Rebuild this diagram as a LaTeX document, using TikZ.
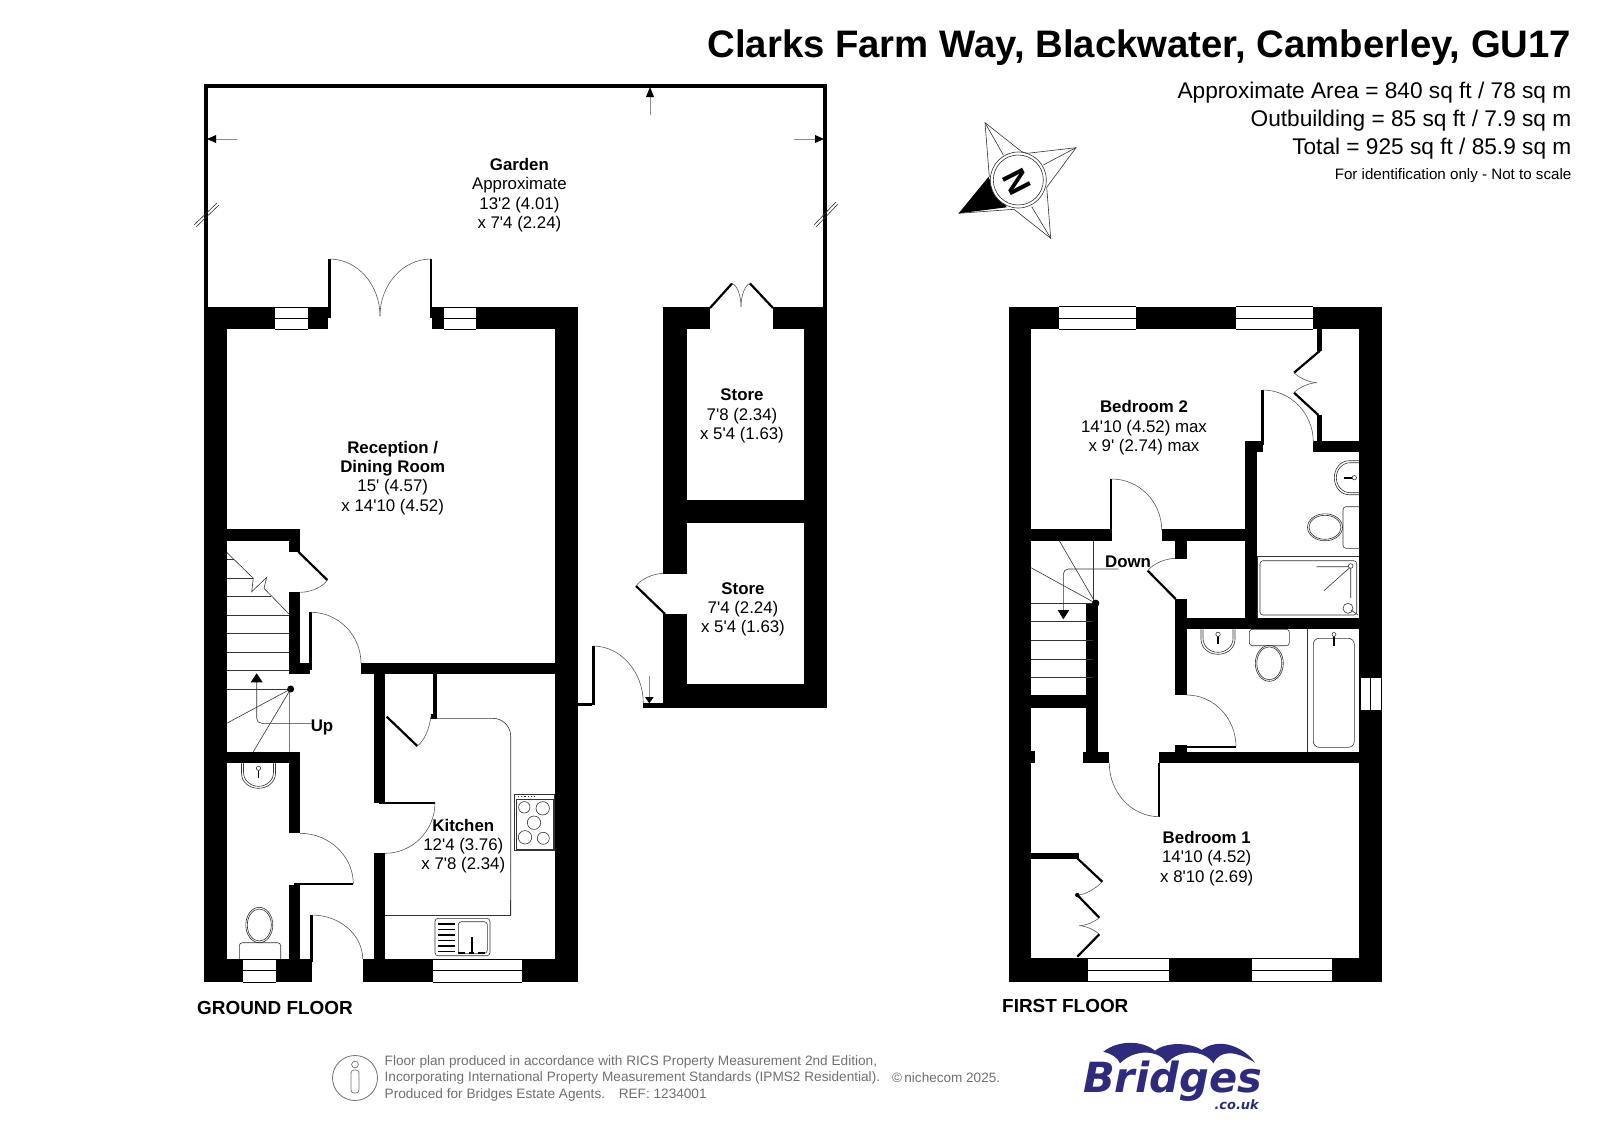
\documentclass[tikz,border=0pt]{standalone}
\usepackage{fontspec}
\setmainfont{Liberation Sans}[Ligatures=TeXOff]
\newfontfamily\logofont{DejaVu Sans}
\usetikzlibrary{calc}
\definecolor{logoblue}{HTML}{2E2A7E}
\definecolor{notegrey}{HTML}{707070}
\tikzset{
  wall/.style={fill=black},
  leaf/.style={draw=black, line width=2.2},
  swing/.style={draw=black!65, line width=0.6},
  fine/.style={draw=black!80, line width=0.6},
  pointer/.style={draw=black!45, line width=0.9},
  room/.style={align=center, inner sep=0pt, font=\fontsize{16.9}{19.4}\selectfont},
  sidetext/.style={anchor=base east, inner sep=0pt},
}
\newcommand{\swingarc}[3]{\draw[swing] (#1) .. controls ($(#1)!0.55!(#2)$) and ($(#3)!0.55!(#2)$) .. (#3);}
\newcommand{\winh}[4]{\fill[white] (#1,#2) rectangle (#3,#4);
  \draw[fine,draw=black] (#1,#2) -- (#3,#2) (#1,#4) -- (#3,#4) (#1,{(#2+#4)/2}) -- (#3,{(#2+#4)/2});}
\newcommand{\basin}[2]{\begin{scope}[shift={(#1)},rotate=#2]
  \draw[fine] (-17,0) -- (-17,10) .. controls (-17,19) and (-9,25) .. (0,25) .. controls (9,25) and (17,19) .. (17,10) -- (17,0);
  \draw[fine] (-15,0) -- (-15,9) .. controls (-15,17) and (-8,23) .. (0,23) .. controls (8,23) and (15,17) .. (15,9) -- (15,0);
  \draw[line width=1.6] (0,5) -- (0,15);
  \draw[fine,fill=white] (0,5) circle (2.2);
  \end{scope}}
\begin{document}
\begin{tikzpicture}[x=1bp,y=-1bp]
  \useasboundingbox (0,0) rectangle (1599,1131);

  % Garden
  \draw[line width=4,line join=miter] (206,307) -- (206,86) -- (825,86) -- (825,307);
  \draw[fine] (194,225) -- (217,203) (196,227) -- (219,205);
  \draw[fine] (814,225) -- (836,202) (816,227) -- (838,204);
  \draw[pointer] (650,115) -- (650,96);
  \draw[pointer] (237,139) -- (216,139);
  \draw[pointer] (794,139) -- (815,139);
  \fill (650,87) -- (646,97) -- (654,97) -- cycle;
  \fill (207,139) -- (216,135) -- (216,143) -- cycle;
  \fill (824,139) -- (815,135) -- (815,143) -- cycle;

  % Ground floor walls
  \fill[wall] (204,307) rectangle (226.7,982.3);
  \fill[wall] (204,959) rectangle (311.7,982.3);
  \fill[wall] (362.7,959) rectangle (577.7,982.3);
  \fill[wall] (554.7,307) rectangle (577.7,982.3);
  \fill[wall] (204,307) rectangle (328,329.3);
  \fill[wall] (432,307) rectangle (577.7,329.3);
  \fill[wall] (226.7,529.3) rectangle (300,541);
  \fill[wall] (289,529.3) rectangle (300,552.3);
  \fill[wall] (289,592) rectangle (300,674);
  \fill[wall] (289,663.3) rectangle (310,674);
  \fill[wall] (361,663.3) rectangle (554.7,674);
  \fill[wall] (374,674) rectangle (385,802.7);
  \fill[wall] (374,853.3) rectangle (385,982);
  \fill[wall] (433.3,674) rectangle (437.3,718.3);
  \fill[wall] (430.7,714.3) rectangle (437.3,719);
  \fill[wall] (226.7,751.7) rectangle (300,763.3);
  \fill[wall] (289,751.7) rectangle (300,833.3);
  \fill[wall] (289,885) rectangle (300,982);
  \winh{275.4}{307}{307.5}{329.3}
  \winh{443.6}{307}{476}{329.3}
  \winh{243.3}{959}{276}{982.3}
  \winh{433.3}{959}{521.7}{982.3}

  % Ground floor doors
  \draw[leaf] (329.5,259) -- (329.5,318);
  \draw[leaf] (431,259) -- (431,318);
  \swingarc{329.5,259}{380,259}{380,316}
  \swingarc{431,259}{380,259}{380,316}
  \draw[leaf] (298.3,551.7) -- (327.3,580);
  \swingarc{327.3,580}{320,592}{300.7,592.3}
  \draw[leaf] (310.5,612.3) -- (310.5,670);
  \swingarc{311,612.3}{361,612.3}{361,663.3}
  \draw[leaf] (386.7,716.7) -- (417.3,746);
  \swingarc{417.3,746}{429,738}{430.7,716.7}
  \draw[leaf] (379,802.7) -- (435,802.7);
  \swingarc{435,802.7}{435,853.3}{385,853.3}
  \draw[leaf] (294.3,884) -- (353.3,884);
  \swingarc{300,833.3}{353.3,833.3}{353.3,884}
  \draw[leaf] (311.5,915) -- (311.5,962);
  \swingarc{311.7,915}{362.7,915}{362.7,959}

  % Ground floor stairs
  \draw[fine] (226.7,689.3) -- (289,689.3) (226.7,670.7) -- (289,670.7) (226.7,652) -- (289,652)
    (226.7,633.7) -- (289,633.7) (226.7,615) -- (289,615) (226.7,596.3) -- (271,596.3)
    (226.7,578) -- (253,578) (226.7,559.3) -- (234,559.3);
  \draw[fine] (226.7,552.3) -- (253.3,578.3) -- (251.7,591.7) -- (266.7,577.3) -- (264,588.3) -- (289,614);
  \draw[fine] (290.7,689) -- (226.7,723.3) (290.7,689) -- (253.3,751.7) (289.3,689) -- (289.3,751.7);
  \fill (290.7,689) circle (3.5);
  \draw[fine,rounded corners=5] (311.7,723.3) -- (256.7,723.3) -- (256.7,682);
  \fill (256.7,673.3) -- (250.7,682.3) -- (262.7,682.3) -- cycle;

  % Kitchen fittings
  \draw[fine,rounded corners=18] (437,718.3) -- (510.7,718.3) -- (510.7,915.3);
  \draw[fine] (510.7,900) -- (510.7,915.3) -- (385,915.3);
  \draw[fine] (514.3,794) rectangle (554.7,850);
  \draw[fine] (516.5,799) rectangle (553,849);
  \draw[fine] (524.3,807.3) circle (5.7) (542.7,808.3) circle (6.7) (534,822.7) circle (6.7)
    (525,837.3) circle (6.7) (543.3,838.3) circle (6);
  \draw[fine,line width=1.2,dotted] (518,796.6) -- (535,796.6);
  \draw[fine,rounded corners=3] (435,918.3) rectangle (490,955.7);
  \draw[fine,rounded corners=3] (458.3,921.7) rectangle (487.3,953.3);
  \draw[line width=1.3] (438,924) -- (455,924) (438,929.3) -- (455,929.3) (438,935) -- (455,935)
    (438,940.7) -- (455,940.7) (438,946) -- (455,946) (438,951.7) -- (455,951.7);
  \draw[line width=1.6] (471.7,937) -- (471.7,952);
  \draw[line width=1.4] (458,953) -- (465,953) (469,953) -- (474,953) (478,953) -- (485,953);

  % Cloakroom fittings
  \basin{258.5,763.3}{0}
  \draw[fine,rounded corners=3] (239.3,959) -- (239.3,942.7) -- (280.7,942.7) -- (280.7,959);
  \draw[fine] (259.3,925) ellipse (13.5 and 17.7) (259.3,925) ellipse (12 and 16);

  % Stores
  \fill[wall] (663.3,307) rectangle (710,329.3);
  \fill[wall] (773,307) rectangle (827.3,329.3);
  \fill[wall] (663.3,307) rectangle (686.7,574.3);
  \fill[wall] (663.3,614) rectangle (686.7,707.7);
  \fill[wall] (804,307) rectangle (827.3,707.7);
  \fill[wall] (663.3,499.7) rectangle (827.3,523);
  \fill[wall] (663.3,684.3) rectangle (827.3,707.7);
  \fill[wall] (643.3,703.3) rectangle (663.3,707.7);
  \fill[wall] (577.3,703.3) rectangle (592,706);
  \draw[leaf] (710,308) -- (732,283.5);
  \draw[leaf] (773,308) -- (750,283.5);
  \swingarc{732,283.5}{741,286}{741,306.7}
  \swingarc{750,283.5}{741,286}{741,306.7}
  \draw[leaf] (665,614) -- (636,586);
  \swingarc{636,586}{644,574}{663.3,573.3}
  \draw[leaf] (593.5,646) -- (593.5,705);
  \swingarc{593,646}{643.3,646}{643.3,703.3}
  \draw[pointer] (649.3,676) -- (649.3,697);
  \fill (649.3,703.3) -- (645,697) -- (653.7,697) -- cycle;

  % First floor walls
  \fill[wall] (1009,306.7) rectangle (1031,981.7);
  \fill[wall] (1359.3,306.7) rectangle (1381.7,981.7);
  \fill[wall] (1009,306.7) rectangle (1381.7,329.3);
  \fill[wall] (1009,958.3) rectangle (1381.7,981.7);
  \fill[wall] (1316.7,329) rectangle (1321.7,350.7);
  \fill[wall] (1316.7,415) rectangle (1321.7,441);
  \fill[wall] (1313.3,440.7) rectangle (1359.3,451.7);
  \fill[wall] (1245,440.7) rectangle (1263.3,451.7);
  \fill[wall] (1245,440.7) rectangle (1256.7,629);
  \fill[wall] (1031,529.3) rectangle (1111.7,540.7);
  \fill[wall] (1161.7,529.3) rectangle (1245,540.7);
  \fill[wall] (1175,540.7) rectangle (1186.7,559.3);
  \fill[wall] (1175,599) rectangle (1186.7,695);
  \fill[wall] (1175,618.3) rectangle (1360,629.3);
  \fill[wall] (1175,745) rectangle (1186.7,755);
  \fill[wall] (1159.3,751.7) rectangle (1359.3,763.3);
  \fill[wall] (1082.7,751.7) rectangle (1109.3,763.3);
  \fill[wall] (1086,603.3) rectangle (1097.7,751.7);
  \fill[wall] (1031,695) rectangle (1086,708.3);
  \fill[wall] (1031,750.7) rectangle (1035,763.3);
  \fill[wall] (1031,853.3) rectangle (1079.3,859);
  \winh{1059.3}{306.7}{1136}{329.3}
  \winh{1236}{306.7}{1313.3}{329.3}
  \winh{1088.3}{958.3}{1169}{981.7}
  \winh{1251.7}{958.3}{1331.7}{981.7}
  \fill[white] (1360,677.3) rectangle (1381.7,710.7);
  \draw[fine,draw=black] (1360,677.3) -- (1360,710.7) (1370.7,677.3) -- (1370.7,710.7)
    (1381.7,677.3) -- (1381.7,710.7) (1360,710.7) -- (1381.7,710.7) (1360,677.3) -- (1381.7,677.3);

  % First floor doors
  \draw[leaf] (1320,350.7) -- (1294,372.7);
  \swingarc{1294,372.7}{1303,382}{1316.7,382.7}
  \swingarc{1294,392.7}{1303,383}{1316.7,382.7}
  \draw[leaf] (1294,392.7) -- (1318.3,415);
  \draw[leaf] (1262.5,390) -- (1262.5,445);
  \swingarc{1262.7,390}{1313.3,390}{1313.3,442}
  \draw[leaf] (1111.2,479) -- (1111.2,540);
  \swingarc{1111.7,479}{1161.7,479}{1161.7,530}
  \draw[leaf] (1147.7,570.7) -- (1175.7,599);
  \swingarc{1147.7,570.7}{1156,559}{1175,558.3}
  \draw[leaf] (1178,746.7) -- (1236,746.7);
  \swingarc{1186.7,695}{1236,695}{1236,746.7}
  \draw[leaf] (1159.3,763) -- (1159.3,816.7);
  \swingarc{1159.3,816.7}{1109.3,816.7}{1109.3,763.3}
  \draw[leaf] (1077.3,858.3) -- (1102.3,881.7);
  \swingarc{1102.3,881.7}{1090,895}{1077.3,895}
  \fill (1077.3,895) circle (2.2);
  \draw[leaf] (1077.3,895) -- (1099.3,917.7);
  \swingarc{1099.3,917.7}{1090,925.7}{1079.3,925.7}
  \swingarc{1099.3,934.3}{1090,925.7}{1079.3,925.7}
  \draw[leaf] (1099.3,934.3) -- (1077.3,956.7);

  % First floor stairs
  \draw[fine] (1031,603.3) -- (1093.3,603.3) (1031,621.7) -- (1093.3,621.7) (1031,640.7) -- (1093.3,640.7)
    (1031,659.3) -- (1093.3,659.3) (1031,677.3) -- (1093.3,677.3) (1093.3,540.7) -- (1093.3,603.3);
  \draw[fine] (1095.7,603.3) -- (1031,567.7) (1095.7,603.3) -- (1059.3,540.7);
  \fill (1095.7,603.3) circle (3.7);
  \draw[fine,rounded corners=5] (1118.3,569) -- (1063.3,569) -- (1063.3,610);
  \fill (1063.3,619.3) -- (1057.7,610) -- (1069.3,610) -- cycle;

  % Bathroom fittings
  \basin{1359.3,477.7}{-90}
  \draw[fine,rounded corners=3] (1360,506.7) -- (1343,506.7) -- (1343,548.3) -- (1360,548.3);
  \draw[fine] (1325,527.3) ellipse (17.5 and 13.5) (1325,527.3) ellipse (16 and 12);
  \draw[fine] (1257.3,618) -- (1257.3,556.7) -- (1359.3,556.7);
  \draw[fine,rounded corners=3] (1260,560.7) rectangle (1356.7,615);
  \draw[fine] (1316.7,566.7) -- (1350.7,566.7) -- (1324,590.7) (1350.7,566.7) -- (1350.7,598);
  \draw[fine,fill=white] (1350.7,566) circle (2.3) (1348,608.3) circle (5);
  \draw[fine] (1351,610) -- (1358,615);

  % En-suite fittings
  \basin{1218,629.3}{0}
  \draw[fine,rounded corners=3] (1249.3,629.3) rectangle (1289.3,645.7);
  \draw[fine] (1269.3,663.3) ellipse (14 and 18) (1269.3,663.3) ellipse (12.5 and 16.5);
  \draw[fine] (1307.3,629.3) -- (1307.3,751.7);
  \draw[fine,rounded corners=6] (1313.3,638.3) rectangle (1354.3,747.3);
  \draw[line width=1.6] (1334,636) -- (1334,646);
  \draw[fine,fill=white] (1334,634.5) circle (2);

  % Room labels
  \node (garden) [room] at (519.4,195) {\textbf{Garden}\\Approximate\\13'2 (4.01)\\x 7'4 (2.24)};
  \node (reception) [room] at (392.7,477.8) {\textbf{Reception /}\\\textbf{Dining Room}\\15' (4.57)\\x 14'10 (4.52)};
  \node (storeone) [room] at (742,416) {\textbf{Store}\\7'8 (2.34)\\x 5'4 (1.63)};
  \node (storetwo) [room] at (743,609.2) {\textbf{Store}\\7'4 (2.24)\\x 5'4 (1.63)};
  \node (kitchen) [room] at (463.3,846.3) {\textbf{Kitchen}\\12'4 (3.76)\\x 7'8 (2.34)};
  \node (bedtwo) [room] at (1144,427.7) {\textbf{Bedroom 2}\\14'10 (4.52) max\\x 9' (2.74) max};
  \node (bedone) [room] at (1206.7,858.5) {\textbf{Bedroom 1}\\14'10 (4.52)\\x 8'10 (2.69)};
  \node (up) [room] at (322,727.5) {\textbf{Up}};
  \node (down) [room] at (1128,561.5) {\textbf{Down}};
  \node (groundfloor) [anchor=base west,inner sep=0pt,font=\fontsize{19}{19}\selectfont\bfseries] at (197,1014) {GROUND FLOOR};
  \node (firstfloor) [anchor=base west,inner sep=0pt,font=\fontsize{19}{19}\selectfont\bfseries] at (1002,1012) {FIRST FLOOR};

  % Title block
  \node (title) [sidetext,font=\fontsize{38.45}{38.45}\selectfont\bfseries] at (1571.5,57) {Clarks Farm Way, Blackwater, Camberley, GU17};
  \node (area) [sidetext,font=\fontsize{22.75}{22.75}\selectfont] at (1571.5,98) {Approximate Area = 840 sq ft / 78 sq m};
  \node (outbuilding) [sidetext,font=\fontsize{22.75}{22.75}\selectfont] at (1571.5,126.5) {Outbuilding = 85 sq ft / 7.9 sq m};
  \node (total) [sidetext,font=\fontsize{22.75}{22.75}\selectfont] at (1571.5,154) {Total = 925 sq ft / 85.9 sq m};
  \node (idonly) [sidetext,font=\fontsize{15.2}{15.2}\selectfont] at (1571.5,179.5) {For identification only - Not to scale};

  % Compass
  \draw[fine] (985,122.7) -- (1021.7,151.7) -- (1027.3,153.3) -- (1076,147.7) -- (1046.7,187.3) -- (1050.7,238.3)
    -- (1014,209.3) -- (959,213.3) -- (989.3,176.7) -- cycle;
  \draw[fine] (985,122.7) -- (1003.3,155) (1076,147.7) -- (1043.3,165) (1050.7,238.3) -- (1031.7,206.7);
  \fill (959,213.3) -- (988.3,177.3) -- (1006.7,207.3) -- cycle;
  \draw[fine,fill=white] (1018.3,180) circle (28);
  \draw[fine] (1018.3,180) circle (25);
  \node (north) [inner sep=0pt,rotate=-63,font=\fontsize{33}{33}\selectfont\bfseries] at (1016.5,181.5) {N};

  % Footer note
  \draw[notegrey,line width=0.8] (355,1078) circle (22.5);
  \draw[notegrey,line width=0.7] (355,1064.5) circle (3.4);
  \draw[notegrey,line width=0.7,rounded corners=3] (351,1070) rectangle (359,1093);
  \node (note) [anchor=north west,align=left,inner sep=0pt,text=notegrey,font=\fontsize{13.68}{16.4}\selectfont] at (384.5,1055.5)
    {Floor plan produced in accordance with RICS Property Measurement 2nd Edition,\\
     Incorporating International Property Measurement Standards (IPMS2 Residential).\\
     Produced for Bridges Estate Agents.\quad REF: 1234001};
  \node (niche) [anchor=base west,inner sep=0pt,text=notegrey,font=\fontsize{13.6}{16.4}\selectfont] at (892,1082) {©\,nichecom 2025.};

  % Logo
  \fill[logoblue] (1103.3,1051.7) .. controls (1118,1040) and (1142,1040) .. (1155,1050.7)
    .. controls (1165,1042) and (1190,1042) .. (1201.7,1050)
    .. controls (1220,1036) and (1245,1048) .. (1255,1062.7)
    .. controls (1235,1050) and (1220,1050) .. (1213.3,1063.3)
    .. controls (1205,1050) and (1180,1048) .. (1166.7,1063.3)
    .. controls (1160,1050) and (1135,1048) .. (1120,1063.3)
    .. controls (1118,1058) and (1112,1054) .. cycle;
  \node (bridges) [anchor=base west,inner sep=0pt,text depth=0pt,text=logoblue,font=\logofont\fontsize{41.7}{41.7}\selectfont\bfseries\itshape] at (1083,1092) {Bridges};
  \node (couk) [anchor=base east,inner sep=0pt,text=logoblue,font=\logofont\fontsize{13}{13}\selectfont\bfseries\itshape] at (1259,1109) {.co.uk};
\end{tikzpicture}
\end{document}
